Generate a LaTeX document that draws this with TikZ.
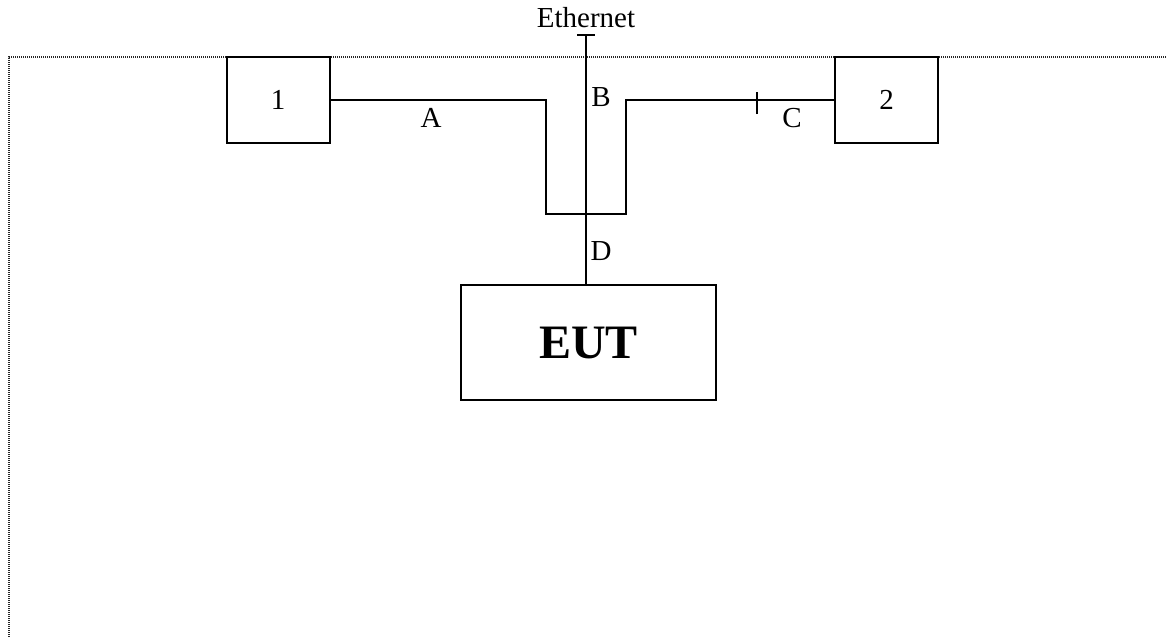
\documentclass[tikz,border=0pt]{standalone}
\usepackage{fontspec}
\setmainfont{Liberation Serif}
\usetikzlibrary{positioning, calc}

\begin{document}
\begin{tikzpicture}[x=1pt, y=-1pt]
            % Define styles
            \tikzstyle{unit} = [rectangle, draw, line width=2pt, inner sep=0pt, font=\fontsize{29}{34}\selectfont]
            \tikzstyle{tag} = [inner sep=0pt, font=\fontsize{29}{34}\selectfont]
            \tikzstyle{line} = [draw, line width=2pt]

            \useasboundingbox (0,0) rectangle (1166,638);

            % Dotted frame
            \draw[black!85, line width=1.6pt, dash pattern=on 1pt off 1pt] (1166,57) -- (9,57) -- (9,638);

            % Boxes
            \node[unit, minimum width=103pt, minimum height=86pt] (One) at (278,100) {1};
            \node[unit, minimum width=103pt, minimum height=86pt] (Two) at (886.5,100) {2};
            \node[unit, minimum width=255pt, minimum height=115pt, font=\fontsize{48}{56}\selectfont\bfseries] (EUT) at (588.5,342.5) {EUT};

            % Ethernet cable end
            \node[tag] (Eth) at (586,18) {Ethernet};
            \coordinate (EthEnd) at (586,35);

            % U-shaped loop
            \coordinate (LoopL) at (546,214);
            \coordinate (LoopR) at (626,214);

            % Connections
            \draw[line] (One.east) -| (LoopL) -- (LoopR) |- (Two.west);
            \draw[line] (EthEnd) -- (EthEnd |- EUT.north);
            \draw[line] ([xshift=-9pt]EthEnd) -- ([xshift=9pt]EthEnd);

            % Tick on C
            \coordinate (Tick) at (757,103);
            \draw[line] ([yshift=-11pt]Tick) -- ([yshift=11pt]Tick);

            % Cable labels
            \node[tag] (A) at (431,118) {A};
            \node[tag] (B) at (601,97) {B};
            \node[tag] (C) at (792,118) {C};
            \node[tag] (D) at (601,251) {D};
\end{tikzpicture}
\end{document}
